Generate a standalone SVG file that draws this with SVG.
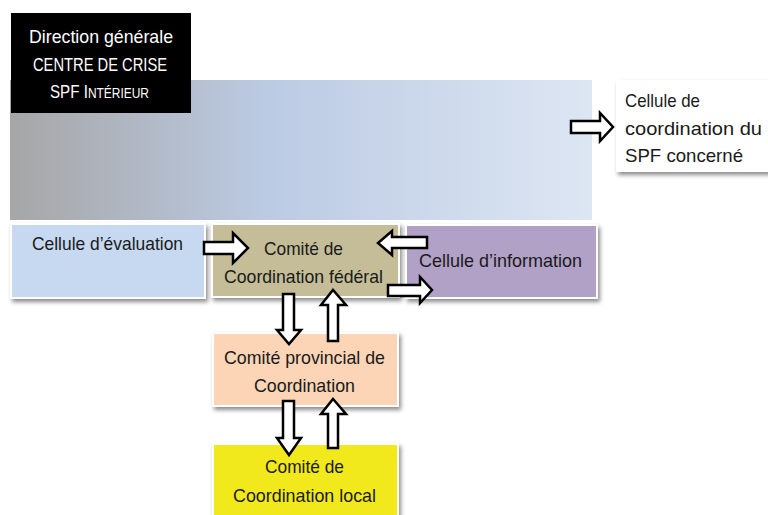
<svg xmlns="http://www.w3.org/2000/svg" width="768" height="515" viewBox="0 0 768 515">
<defs>
<linearGradient id="bg" x1="0" y1="0" x2="1" y2="0">
<stop offset="0" stop-color="#a6a6a6"/>
<stop offset="0.45" stop-color="#bccbe4"/>
<stop offset="1" stop-color="#dde6f3"/>
</linearGradient>
<filter id="sh" x="-10%" y="-10%" width="125%" height="130%">
<feDropShadow dx="2" dy="3" stdDeviation="2" flood-color="#000" flood-opacity="0.45"/>
</filter>
<style>
.t{font-family:"Liberation Sans",Arial,sans-serif;font-size:19px;fill:#1a1a1a}
.w{fill:#ffffff}
.box{stroke:#ffffff;stroke-width:2;filter:url(#sh)}
.arr{fill:#ffffff;stroke:#000000;stroke-width:2.5;stroke-linejoin:miter}
</style>
</defs>
<rect x="10" y="80" width="582" height="140" fill="url(#bg)"/>
<g id="direction">
<rect x="11" y="13" width="180" height="100" fill="#000000"/>
<text class="t w" x="29" y="43" textLength="144" lengthAdjust="spacingAndGlyphs">Direction générale</text>
<text class="t w" x="33" y="71" textLength="134" lengthAdjust="spacingAndGlyphs">CENTRE DE CRISE</text>
<text class="t w" x="50" y="98" textLength="99" lengthAdjust="spacingAndGlyphs">SPF I<tspan font-size="15">NTÉRIEUR</tspan></text>
</g>
<g id="spf">
<rect x="616" y="80" width="154" height="92" fill="#ffffff" filter="url(#sh)"/>
<text class="t" x="625" y="107" textLength="75" lengthAdjust="spacingAndGlyphs">Cellule de</text>
<text class="t" x="625" y="135" textLength="137" lengthAdjust="spacingAndGlyphs">coordination du</text>
<text class="t" x="625" y="162" textLength="118" lengthAdjust="spacingAndGlyphs">SPF concerné</text>
</g>
<g id="evaluation">
<rect class="box" x="11" y="224" width="194" height="74" fill="#c6d9f0"/>
<text class="t" x="32" y="250" textLength="151" lengthAdjust="spacingAndGlyphs">Cellule d’évaluation</text>
</g>
<g id="federal">
<rect class="box" x="212" y="224" width="187" height="73" fill="#c4bd97"/>
<text class="t" x="264" y="255" textLength="79" lengthAdjust="spacingAndGlyphs">Comité de</text>
<text class="t" x="224" y="283" textLength="159" lengthAdjust="spacingAndGlyphs">Coordination fédéral</text>
</g>
<g id="information">
<rect class="box" x="406" y="225" width="191" height="73" fill="#b2a1c7"/>
<text class="t" x="419" y="267" textLength="163" lengthAdjust="spacingAndGlyphs">Cellule d’information</text>
</g>
<g id="provincial">
<rect class="box" x="213" y="333" width="185" height="73" fill="#fbd5b5"/>
<text class="t" x="224" y="364" textLength="161" lengthAdjust="spacingAndGlyphs">Comité provincial de</text>
<text class="t" x="254" y="392" textLength="101" lengthAdjust="spacingAndGlyphs">Coordination</text>
</g>
<g id="local">
<rect class="box" x="213" y="444" width="185" height="75" fill="#f1e91a"/>
<text class="t" x="265" y="473" textLength="79" lengthAdjust="spacingAndGlyphs">Comité de</text>
<text class="t" x="233" y="502" textLength="143" lengthAdjust="spacingAndGlyphs">Coordination local</text>
</g>
<g id="connectors">
<polygon class="arr" points="204,242 233,242 233,233 248,248 233,263 233,254 204,254"/>
<polygon class="arr" points="427,237 392,237 392,231 378,243 392,255 392,248 427,248"/>
<polygon class="arr" points="388,285 420,285 420,277 432,290 420,303 420,296 388,296"/>
<polygon class="arr" points="571,121 600,121 600,113 613,127 600,141 600,133 571,133"/>
<polygon class="arr" points="283,294 294,294 294,330 301,330 289,344 277,330 283,330"/>
<polygon class="arr" points="328,341 338,341 338,305 346,305 333,290 321,305 328,305"/>
<polygon class="arr" points="283,401 294,401 294,438 301,438 289,455 277,438 283,438"/>
<polygon class="arr" points="328,448 338,448 338,414 346,414 333,399 321,414 328,414"/>
</g>
</svg>
